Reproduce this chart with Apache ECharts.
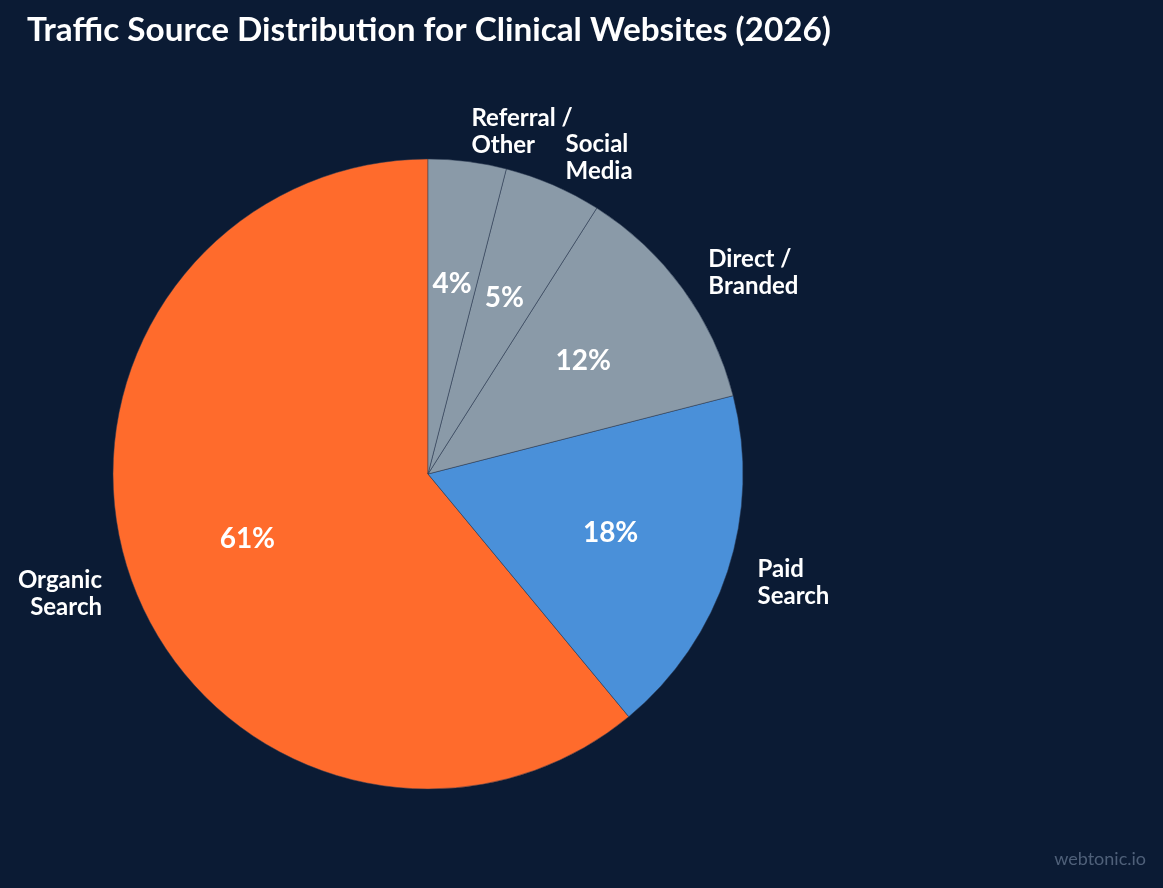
<!DOCTYPE html>
<html>
<head>
<meta charset="utf-8">
<style>
  html, body { margin: 0; padding: 0; background: #0b1b34; }
  #chart { width: 1163px; height: 888px; }
</style>
<script src="https://cdn.jsdelivr.net/npm/echarts@6/dist/echarts.min.js"></script>
</head>
<body>
<div id="chart"></div>
<script>
const categories = ['Organic\nSearch', 'Paid\nSearch', 'Direct /\nBranded', 'Social\nMedia', 'Referral /\nOther'];
const shares = [61, 18, 12, 5, 4];
const sliceColors = ['#ff6b2c', '#4a90d9', '#8a9aa8', '#8a9aa8', '#8a9aa8'];
const titleText = 'Traffic Source Distribution for Clinical Websites (2026)';
const sourceText = 'webtonic.io';

const chart = echarts.init(document.getElementById('chart'), null, { renderer: 'canvas' });
const R = 315;
const FONT = 'Lato, "Noto Sans", sans-serif';

const mainData = categories.map((c, i) => ({ name: c, value: shares[i], itemStyle: { color: sliceColors[i] } }));
const pctData = categories.map((c, i) => ({ name: c, value: shares[i] }));

chart.setOption({
  backgroundColor: '#0b1b34',
  animation: false,
  title: [{
    text: titleText,
    left: 22, top: 9,
    textStyle: { color: '#ffffff', fontFamily: FONT, fontWeight: 'bold', fontSize: 33.3 }
  }, {
    text: sourceText,
    right: 12, bottom: 15,
    textStyle: { color: '#4f6079', fontFamily: FONT, fontWeight: 'normal', fontSize: 18 }
  }],
  series: [{
    type: 'pie',
    center: [428, 474],
    radius: R,
    clockwise: false,
    startAngle: 90,
    avoidLabelOverlap: false,
    labelLayout: { hideOverlap: false },
    silent: true,
    data: mainData,
    itemStyle: { borderColor: '#2a3850', borderWidth: 0.5 },
    label: {
      show: true,
      position: 'outside',
      formatter: '{b}',
      color: '#ffffff',
      fontFamily: FONT,
      fontWeight: 'bold',
      fontSize: 24,
      lineHeight: 27,
      offset: [0, 2],
      distanceToLabelLine: 0
    },
    labelLine: { show: false, length: R * 0.1, length2: 0 }
  }, {
    type: 'pie',
    center: [428, 474],
    radius: R * 1.2,
    clockwise: false,
    startAngle: 90,
    avoidLabelOverlap: false,
    labelLayout: { hideOverlap: false },
    silent: true,
    data: pctData,
    itemStyle: { color: 'rgba(0,0,0,0)', borderWidth: 0 },
    label: {
      show: true,
      position: 'inside',
      formatter: '{c}%',
      color: '#ffffff',
      fontFamily: FONT,
      fontWeight: 'bold',
      fontSize: 28
    },
    labelLine: { show: false }
  }]
});
</script>
</body>
</html>
